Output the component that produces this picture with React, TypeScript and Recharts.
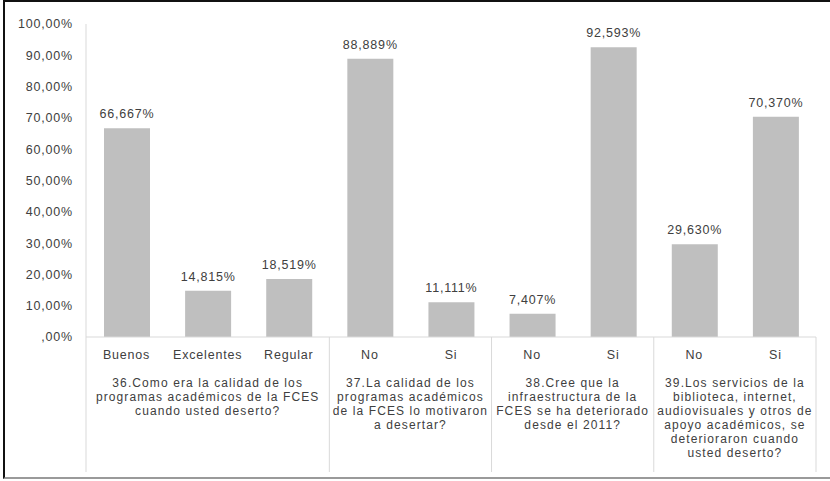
import * as React from 'react';
import { Bar, BarChart, LabelList, XAxis, YAxis } from 'recharts';

// categorías y porcentajes
const categorias = ['Buenos', 'Excelentes', 'Regular', 'No', 'Si', 'No', 'Si', 'No', 'Si'];
const porcentajes = [66.667, 14.815, 18.519, 88.889, 11.111, 7.407, 92.593, 29.63, 70.37];
const grupoDe = [0, 0, 0, 1, 1, 2, 2, 3, 3];
const preguntas = [
  ['36.Como era la calidad de los', 'programas académicos de la FCES', 'cuando usted deserto?'],
  ['37.La calidad de los', 'programas académicos', 'de la FCES lo motivaron', 'a desertar?'],
  ['38.Cree que la', 'infraestructura de la', 'FCES se ha deteriorado', 'desde el 2011?'],
  [
    '39.Los servicios de la',
    'biblioteca, internet,',
    'audiovisuales y otros de',
    'apoyo académicos, se',
    'deterioraron cuando',
    'usted deserto?',
  ],
];
const ticksY = [0, 10, 20, 30, 40, 50, 60, 70, 80, 90, 100];

const data = categorias.map((categoria, id) => ({ id, categoria, valor: porcentajes[id] }));

const FUENTE = '"Liberation Sans", Arial, sans-serif';
const TEXTO = '#404040';
const LINEA = '#d9d9d9';

const fmtEje = (v: number) => (v === 0 ? ',00%' : `${v},00%`);
const fmtValor = (v: number) => `${v.toFixed(3).replace('.', ',')}%`;

function TickCategoria(props: any) {
  const { x, y, payload } = props;
  const i = payload.value as number;
  const mitad = payload.offset ?? 730 / categorias.length / 2;
  const g = grupoDe[i];
  const inicio = i === 0 || grupoDe[i - 1] !== g;
  const ultimo = i === categorias.length - 1;
  const n = grupoDe.filter((x2) => x2 === g).length;
  const izq = x - mitad;
  const centro = izq + n * mitad;
  return (
    <g>
      <text x={x} y={y + 22} textAnchor="middle" fontSize={12.5} letterSpacing={0.8} fill={TEXTO} fontFamily={FUENTE}>
        {categorias[i]}
      </text>
      {inicio && <line x1={izq} x2={izq} y1={y} y2={y + 135} stroke={LINEA} />}
      {ultimo && <line x1={x + mitad} x2={x + mitad} y1={y} y2={y + 135} stroke={LINEA} />}
      {inicio &&
        preguntas[g].map((linea, k) => (
          <text
            key={k}
            x={centro}
            y={y + 50 + k * 14}
            textAnchor="middle"
            fontSize={12}
            letterSpacing={1.1}
            fill={TEXTO}
            fontFamily={FUENTE}
          >
            {linea}
          </text>
        ))}
    </g>
  );
}

export default function App() {
  return (
    <div style={{ position: 'absolute', left: 0, top: 0, width: 830, height: 481, background: '#fff' }}>
      <div
        style={{
          position: 'absolute',
          left: 3,
          top: 0,
          width: 827,
          height: 479,
          boxSizing: 'border-box',
          borderTop: '2px solid #111',
          borderLeft: '2px solid #111',
          borderBottom: '2px solid #9a9a9a',
        }}
      />
      <div style={{ position: 'absolute', left: 0, top: 0 }}>
        <BarChart width={830} height={481} data={data} margin={{ top: 24, right: 14, left: 0, bottom: 9 }} barSize={46}>
          <YAxis
            type="number"
            domain={[0, 100]}
            ticks={ticksY}
            tickFormatter={fmtEje}
            width={86}
            axisLine={{ stroke: LINEA }}
            tickLine={false}
            tickSize={0}
            tickMargin={13}
            tick={{ fontSize: 12.5, fill: TEXTO, fontFamily: FUENTE, letterSpacing: 0.8 }}
          />
          <XAxis
            dataKey="id"
            type="category"
            height={135}
            axisLine={{ stroke: LINEA }}
            tickLine={false}
            tickSize={0}
            tickMargin={0}
            interval={0}
            tick={<TickCategoria />}
          />
          <Bar dataKey="valor" fill="#bfbfbf" isAnimationActive={false}>
            <LabelList
              dataKey="valor"
              position="top"
              offset={10}
              formatter={(v: any) => fmtValor(Number(v))}
              fontSize={12.5}
              letterSpacing={0.8}
              fill={TEXTO}
              fontFamily={FUENTE}
            />
          </Bar>
        </BarChart>
      </div>
    </div>
  );
}
